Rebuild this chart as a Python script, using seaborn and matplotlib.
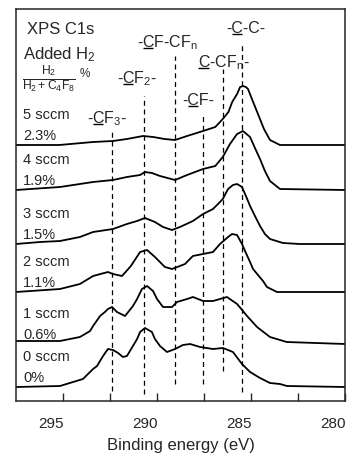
import numpy as np
import pandas as pd
import matplotlib
matplotlib.use('Agg')
import matplotlib.pyplot as plt
from matplotlib.transforms import ScaledTranslation
import seaborn as sns

# spectra (binding energy in eV, intensity in arbitrary units)
e0 = [297.5, 295.16, 293.94, 293.4, 293.19, 292.87, 292.61, 292.34, 292.07, 291.81, 291.6, 291.28, 291.06,
      290.9, 290.64, 290.27, 290.11, 289.84, 289.47, 289.04, 288.62, 288.24, 287.71, 287.02, 286.49, 285.96,
      285.48, 285.05, 284.52, 283.99, 283.46, 283.09, 280.0]
i0 = [0, 1, 8, 18, 21, 31, 38, 37, 34, 30, 31, 41, 48,
      55, 59, 55, 48, 41, 35, 38, 42, 43, 40, 38, 39, 35,
      23, 15, 9, 4, 3, 1, 0]

e1 = [297.5, 295.16, 294.1, 293.56, 293.4, 293.03, 292.77, 292.61, 292.39, 292.13, 291.7, 291.28, 291.06,
      290.8, 290.53, 290.21, 290.0, 289.68, 289.2, 288.94, 288.4, 288.09, 287.55, 287.02, 286.28, 285.74,
      285.21, 284.68, 283.99, 283.1, 280.0]
i1 = [3, 3, 7, 13, 18, 28, 32, 35, 37, 32, 28, 38, 45,
      55, 58, 53, 45, 37, 37, 42, 45, 47, 43, 43, 47, 40,
      28, 17, 7, 2, 0]

e2 = [297.5, 295.16, 294.1, 293.4, 292.61, 292.34, 291.86, 291.39, 290.9, 290.53, 290.11, 289.58, 289.2,
      288.51, 288.09, 287.55, 287.02, 286.65, 286.22, 286.01, 285.74, 285.48, 285.27, 285.05, 284.89, 284.63,
      284.36, 284.15, 283.62, 280.0]
i2 = [0, 3, 8, 16, 20, 18, 16, 26, 40, 42, 35, 25, 23,
      28, 36, 38, 40, 48, 55, 58, 57, 48, 39, 30, 23, 17,
      11, 5, 0, 0]

e3 = [297.5, 296.22, 295.16, 294.1, 293.4, 292.34, 291.6, 291.06, 290.64, 290.11, 289.68, 289.2, 288.78,
      288.09, 287.55, 287.02, 286.65, 286.5, 286.22, 285.96, 285.74, 285.48, 285.27, 285.05, 284.79, 284.52,
      284.26, 283.99, 283.3, 282.4, 280.0]
i3 = [0, 2, 3, 7, 12, 15, 20, 23, 26, 22, 17, 14, 17,
      23, 30, 35, 42, 45, 55, 59, 60, 57, 48, 38, 28, 18,
      10, 5, 1, 0, 0]

e4 = [297.5, 295.16, 294.1, 293.4, 292.34, 291.6, 290.9, 290.64, 290.27, 289.84, 289.04, 288.4, 287.55,
      286.9, 286.5, 286.12, 285.74, 285.43, 285.05, 284.79, 284.52, 284.26, 283.99, 283.46, 280.0]
i4 = [0, 3, 6, 8, 10, 13, 15, 18, 17, 14, 10, 15, 21,
      24, 33, 46, 56, 59, 53, 42, 31, 19, 9, 1, 0]

e5 = [297.5, 295.2, 293.4, 292.34, 291.6, 290.74, 290.2, 289.6, 289.04, 288.4, 287.55, 286.9, 286.5,
      286.2, 286.0, 285.74, 285.58, 285.43, 285.27, 285.16, 284.95, 284.63, 284.31, 283.99, 283.46, 280.0]
i5 = [0, 0, 3, 4, 6, 9, 8, 6, 5, 9, 14, 18, 26,
      33, 43, 51, 58, 59, 58, 56, 46, 31, 16, 5, 0, 0]

flows = ['0 sccm', '1 sccm', '2 sccm', '3 sccm', '4 sccm', '5 sccm']
ratios = ['0%', '0.6%', '1.1%', '1.5%', '1.9%', '2.3%']

# component positions (eV) and their labels: text before the underlined C, after it
peak_pos = [292.4, 290.7, 289.04, 287.55, 286.5, 285.48]
lab_pre = ['-', '-', '-', '-', '', '-']
lab_post = ['F$_3$-', 'F$_2$-', 'F-CF$_\\mathrm{n}$', 'F-', '-CF$_\\mathrm{n}$-', '-C-']

# layout: vertical stacking offsets, dashed line extents, label spots
offsets = [14, 57, 109, 157, 211, 256]
line_lo = [10, 7, 17, 17, 30, 9]
line_hi = [269, 305, 345, 287, 332, 357]
label_x = [293.72, 292.13, 291.06, 288.67, 287.82, 286.33]
label_y = [279, 319, 355, 297, 335, 369]

sns.set_style('ticks')
plt.rcParams['font.family'] = ['Liberation Sans', 'DejaVu Sans']
plt.rcParams['mathtext.fontset'] = 'custom'
plt.rcParams['mathtext.rm'] = 'Liberation Sans'
plt.rcParams['mathtext.it'] = 'Liberation Sans:italic'
plt.rcParams['mathtext.bf'] = 'Liberation Sans:bold'

energies = [e0, e1, e2, e3, e4, e5]
intens = [i0, i1, i2, i3, i4, i5]
rows = []
for k in range(6):
    for e, v in zip(energies[k], intens[k]):
        rows.append({'E': e, 'y': v + offsets[k], 'flow': flows[k]})
df = pd.DataFrame(rows)

fig = plt.figure(figsize=(3.58, 4.56), dpi=100)
ax = fig.add_axes([16 / 358, 1 - 402 / 456, (345 - 16) / 358, (402 - 10) / 456])

sns.lineplot(data=df, x='E', y='y', hue='flow', palette=['black'] * 6, legend=False,
             sort=False, estimator=None, lw=1.3, ax=ax)

for p, lo, hi in zip(peak_pos, line_lo, line_hi):
    ax.plot([p, p], [lo, hi], color='black', lw=0.9, ls=(0, (4, 3)))

ax.set_xlim(297.5, 280)
ax.set_ylim(0, 392)

# peak labels with an underlined C
fs_lab = 11.5
renderer = fig.canvas.get_renderer()
for pre, post, x, y in zip(lab_pre, lab_post, label_x, label_y):
    ax.text(x, y, pre + 'C' + post, ha='left', va='baseline', fontsize=fs_lab)
    x0d, y0d = ax.transData.transform((x, y))
    w_pre = 0.0
    if pre:
        t = ax.text(x, y, pre, ha='left', va='baseline', fontsize=fs_lab)
        w_pre = t.get_window_extent(renderer).width
        t.remove()
    t = ax.text(x, y, pre + 'C', ha='left', va='baseline', fontsize=fs_lab)
    w_c = t.get_window_extent(renderer).width
    t.remove()
    inv = ax.transData.inverted()
    (ux0, uy), (ux1, _) = inv.transform([(x0d + w_pre + 0.5, y0d - 2.0), (x0d + w_c - 0.5, y0d - 2.0)])
    ax.plot([ux0, ux1], [uy, uy], color='black', lw=1.0, solid_capstyle='butt')

for k in range(6):
    ax.text(297.13, offsets[k] + 31, flows[k], ha='left', va='center', fontsize=10.5)
    ax.text(297.13, offsets[k] + 10, ratios[k], ha='left', va='center', fontsize=10.5)

ax.text(296.9, 373, 'XPS C1s', ha='left', va='center', fontsize=12)
ax.text(297.13, 347, 'Added H$_2$', ha='left', va='center', fontsize=12)
ax.text(297.2, 323, '$\\frac{\\mathrm{H_2}}{\\mathrm{H_2+C_4F_8}}$', ha='left', va='center', fontsize=12.5)
ax.text(294.1, 328, '%', ha='left', va='center', fontsize=8.5)

ax.set_xticks([295, 292.5, 290, 287.5, 285, 282.5, 280])
ax.set_xticklabels(['295', '', '290', '', '285', '', '280'])
ax.set_yticks([])
ax.tick_params(axis='x', direction='in', length=6, width=1, pad=11, labelsize=11)
shift = ScaledTranslation(-12 / 100, 0, fig.dpi_scale_trans)
for lab in ax.get_xticklabels():
    lab.set_transform(lab.get_transform() + shift)
for s in ax.spines.values():
    s.set_linewidth(1.1)
    s.set_visible(True)
ax.set_xlabel('Binding energy (eV)', fontsize=12, labelpad=5)
ax.set_ylabel('')

fig.savefig('out.png', dpi=100)
